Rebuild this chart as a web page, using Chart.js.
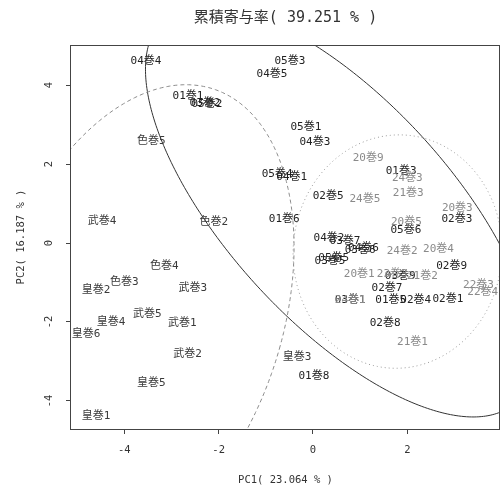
<!DOCTYPE html>
<html>
<head>
<meta charset="utf-8">
<script src="https://cdn.jsdelivr.net/npm/chart.js@4.4.0/dist/chart.umd.min.js"></script>
<style>
  html, body { margin: 0; padding: 0; background: #fff; }
</style>
</head>
<body>
<canvas id="pca" width="500" height="492"></canvas>
<script>
const titleText = '累積寄与率( 39.251 % )';
const xTitle = 'PC1( 23.064 % )';
const yTitle = 'PC2( 16.187 % )';
const xTicks = [-4, -2, 0, 2];
const yTicks = [-4, -2, 0, 2, 4];
const xRange = [-5.13, 3.965];
const yRange = [-4.709, 5.013];

// 01-05巻
const earlyNames = ['04巻4', '05巻3', '04巻5', '01巻1', '03巻2', '05巻2', '05巻1', '04巻3', '05巻4', '04巻1',
  '01巻3', '02巻5', '01巻6', '02巻3', '05巻6', '04巻2', '03巻7', '03巻6', '04巻6', '03巻5', '05巻5',
  '02巻9', '03巻9', '02巻7', '03巻1', '01巻5', '02巻4', '02巻1', '02巻8', '01巻8'];
const earlyX = [-3.54, -0.49, -0.87, -2.65, -2.29, -2.25, -0.15, 0.04, -0.76, -0.45,
  1.87, 0.32, -0.61, 3.05, 1.97, 0.34, 0.68, 1.00, 1.07, 0.36, 0.44,
  2.94, 1.85, 1.57, 0.79, 1.65, 2.18, 2.86, 1.53, 0.02];
const earlyY = [4.61, 4.61, 4.28, 3.72, 3.55, 3.52, 2.94, 2.56, 1.75, 1.67,
  1.82, 1.19, 0.61, 0.61, 0.33, 0.13, 0.05, -0.18, -0.12, -0.46, -0.39,
  -0.59, -0.84, -1.15, -1.45, -1.44, -1.44, -1.42, -2.03, -3.38];

// 20-24巻
const lateNames = ['20巻9', '24巻3', '24巻5', '21巻3', '20巻3', '20巻5', '24巻2', '20巻4',
  '20巻1', '23巻3', '21巻2', '24巻1', '22巻3', '22巻4', '21巻1'];
const lateX = [1.17, 2.00, 1.10, 2.02, 3.06, 1.98, 1.89, 2.66, 0.98, 1.68, 2.32, 0.79, 3.51, 3.60, 2.11];
const lateY = [2.14, 1.65, 1.12, 1.25, 0.87, 0.53, -0.20, -0.15, -0.79, -0.79, -0.84, -1.45, -1.07, -1.25, -2.52];

// 色・武・皇巻
const kanjiNames = ['色巻5', '武巻4', '色巻2', '色巻4', '色巻3', '皇巻2', '武巻3', '武巻5',
  '皇巻4', '武巻1', '皇巻6', '武巻2', '皇巻3', '皇巻5', '皇巻1'];
const kanjiX = [-3.43, -4.47, -2.10, -3.15, -4.00, -4.60, -2.55, -3.51, -4.28, -2.77, -4.81, -2.66, -0.34, -3.43, -4.60];
const kanjiY = [2.57, 0.56, 0.53, -0.59, -0.99, -1.20, -1.15, -1.81, -2.01, -2.04, -2.32, -2.82, -2.90, -3.56, -4.38];

// group ellipses: 01-05巻, 色・武・皇巻, 20-24巻
const ellipseCenters = [[0.562, 0.806], [-3.727, -1.969], [1.793, -0.217]];
const ellipseRadii = [[2.530, 6.137], [3.097, 6.098], [2.214, 2.955]];
const ellipseAngles = [35.45, -13.34, -1.63];

const ellipseStyles = [
  { color: '#333', width: 1, dash: [] },
  { color: '#8c8c8c', width: 1, dash: [4, 3] },
  { color: '#9a9a9a', width: 1, dash: [1, 3] }
];

const monoFamily = '"DejaVu Sans Mono", "Noto Sans CJK JP", monospace';
const labelFont = '11px ' + monoFamily;

function toPoints(names, xs, ys) {
  return names.map((n, i) => ({ x: xs[i], y: ys[i], label: n }));
}

const ellipsePlugin = {
  id: 'ellipses',
  beforeDatasetsDraw(chart) {
    const { ctx, chartArea: a, scales: { x, y } } = chart;
    ctx.save();
    ctx.beginPath();
    ctx.rect(a.left, a.top, a.right - a.left, a.bottom - a.top);
    ctx.clip();
    ellipseStyles.forEach((st, k) => {
      const [cx, cy] = ellipseCenters[k];
      const [r1, r2] = ellipseRadii[k];
      const th = ellipseAngles[k] * Math.PI / 180;
      ctx.beginPath();
      for (let s = 0; s <= 360; s++) {
        const t = s * Math.PI / 180;
        const dx = r1 * Math.cos(t) * Math.cos(th) - r2 * Math.sin(t) * Math.sin(th);
        const dy = r1 * Math.cos(t) * Math.sin(th) + r2 * Math.sin(t) * Math.cos(th);
        const px = x.getPixelForValue(cx + dx);
        const py = y.getPixelForValue(cy + dy);
        if (s === 0) ctx.moveTo(px, py); else ctx.lineTo(px, py);
      }
      ctx.strokeStyle = st.color;
      ctx.lineWidth = st.width;
      ctx.setLineDash(st.dash);
      ctx.stroke();
    });
    ctx.restore();
  }
};

// each point is drawn as its own name, no marker
const labelPlugin = {
  id: 'textLabels',
  afterDatasetsDraw(chart) {
    const { ctx, chartArea: a } = chart;
    ctx.save();
    ctx.beginPath();
    ctx.rect(a.left, a.top, a.right - a.left, a.bottom - a.top);
    ctx.clip();
    ctx.font = labelFont;
    ctx.textAlign = 'center';
    ctx.textBaseline = 'middle';
    chart.data.datasets.forEach((ds, i) => {
      ctx.fillStyle = ds.labelColor;
      chart.getDatasetMeta(i).data.forEach((el, j) => {
        ctx.fillText(ds.data[j].label, el.x, el.y);
      });
    });
    ctx.restore();
  }
};

const framePlugin = {
  id: 'frame',
  afterDraw(chart) {
    const { ctx, chartArea: a } = chart;
    ctx.save();
    ctx.strokeStyle = '#444';
    ctx.lineWidth = 1;
    ctx.strokeRect(a.left - 0.5, a.top + 0.5, a.right - a.left, a.bottom - a.top);
    ctx.restore();
  }
};

const tickFont = { family: monoFamily, size: 10.5 };

new Chart(document.getElementById('pca'), {
  type: 'scatter',
  data: {
    datasets: [
      { data: toPoints(kanjiNames, kanjiX, kanjiY), labelColor: '#3a3a3a', pointRadius: 0 },
      { data: toPoints(earlyNames, earlyX, earlyY), labelColor: '#222', pointRadius: 0 },
      { data: toPoints(lateNames, lateX, lateY), labelColor: '#8a8a8a', pointRadius: 0 }
    ]
  },
  options: {
    responsive: false,
    animation: false,
    devicePixelRatio: 1,
    layout: { padding: 0 },
    plugins: {
      legend: { display: false },
      tooltip: { enabled: false },
      title: {
        display: true, text: titleText, fullSize: false, color: '#333',
        font: { family: monoFamily, size: 15, weight: 'normal' },
        padding: { top: 9, bottom: 18 }
      }
    },
    scales: {
      x: {
        type: 'linear', min: xRange[0], max: xRange[1],
        afterFit(s) { s.height = 63; },
        afterBuildTicks(s) { s.ticks = xTicks.map(v => ({ value: v })); },
        grid: { drawOnChartArea: false, drawTicks: true, tickLength: 5, color: '#444' },
        border: { display: false },
        ticks: { color: '#333', font: tickFont, padding: 10, maxRotation: 0, autoSkip: false, callback: v => String(v) },
        title: { display: true, text: xTitle, color: '#333', font: tickFont, padding: { top: 0, bottom: 5 } }
      },
      y: {
        type: 'linear', min: yRange[0], max: yRange[1],
        afterFit(s) { s.width = 71; },
        afterBuildTicks(s) { s.ticks = yTicks.map(v => ({ value: v })); },
        grid: { drawOnChartArea: false, drawTicks: true, tickLength: 5, color: '#444' },
        border: { display: false },
        ticks: { color: '#333', font: tickFont, padding: 10, minRotation: 90, maxRotation: 90, crossAlign: 'center', autoSkip: false, callback: v => String(v) },
        title: { display: true, text: yTitle, color: '#333', font: tickFont, padding: { top: 15, bottom: 0 } }
      }
    }
  },
  plugins: [ellipsePlugin, labelPlugin, framePlugin]
});
</script>
</body>
</html>
